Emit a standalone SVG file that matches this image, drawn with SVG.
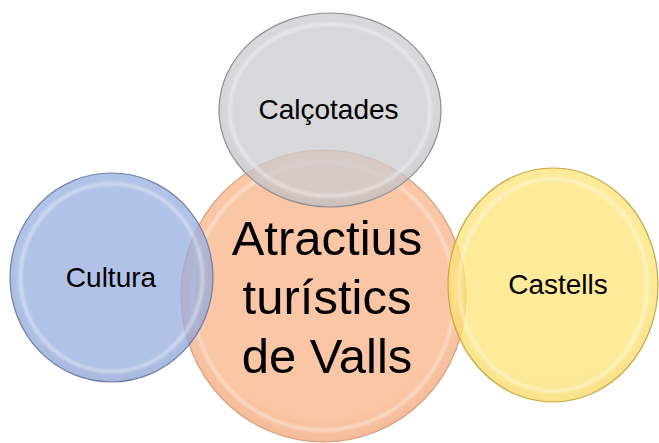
<svg xmlns="http://www.w3.org/2000/svg" width="659" height="443" viewBox="0 0 659 443">
<defs>
<filter id="blur" x="-10%" y="-10%" width="120%" height="120%"><feGaussianBlur stdDeviation="1.5"/></filter>
<radialGradient id="gO" cx="50%" cy="45%" r="55%"><stop offset="0.85" stop-color="#F9BC95"/><stop offset="1" stop-color="#F2AE86"/></radialGradient>
<radialGradient id="gG" cx="50%" cy="45%" r="55%"><stop offset="0.85" stop-color="#CBCBCF"/><stop offset="1" stop-color="#BDBDC2"/></radialGradient>
<radialGradient id="gB" cx="50%" cy="45%" r="55%"><stop offset="0.85" stop-color="#97AEE0"/><stop offset="1" stop-color="#8AA0D2"/></radialGradient>
<radialGradient id="gY" cx="50%" cy="45%" r="55%"><stop offset="0.85" stop-color="#FDE478"/><stop offset="1" stop-color="#F5D560"/></radialGradient>
</defs>
<style>
.lbl{font-family:"Liberation Sans",Arial,sans-serif;fill:#000;text-anchor:middle}
.sm{font-size:28px}
.big{font-size:49px}
.rim{fill:none;stroke:#fff;stroke-opacity:0.55;stroke-width:2.5}
</style>
<g id="connectors"/>
<g id="node-center">
<ellipse cx="323.5" cy="296" rx="142.5" ry="146" fill="url(#gO)" fill-opacity="0.85" stroke="#D9A07E" stroke-width="1.2"/>
<ellipse cx="323.5" cy="296" rx="131" ry="134" class="rim" filter="url(#blur)"/>
<text class="lbl big" x="327" y="255">Atractius</text>
<text class="lbl big" x="327" y="314">turístics</text>
<text class="lbl big" x="327" y="373">de Valls</text>
</g>
<g id="node-calcotades">
<ellipse cx="330" cy="110" rx="111" ry="97" fill="url(#gG)" fill-opacity="0.75" stroke="#8E8E92" stroke-width="1.2"/>
<ellipse cx="330" cy="110" rx="100" ry="86" class="rim" filter="url(#blur)"/>
<text class="lbl sm" x="328.5" y="119">Calçotades</text>
</g>
<g id="node-cultura">
<ellipse cx="111.5" cy="277.5" rx="101.5" ry="104.5" fill="url(#gB)" fill-opacity="0.75" stroke="#6F7FA8" stroke-width="1.2"/>
<ellipse cx="111.5" cy="277.5" rx="91" ry="94" class="rim" filter="url(#blur)"/>
<text class="lbl sm" x="111" y="287">Cultura</text>
</g>
<g id="node-castells">
<ellipse cx="553" cy="285" rx="105" ry="117" fill="url(#gY)" fill-opacity="0.75" stroke="#C9A840" stroke-width="1.2"/>
<ellipse cx="553" cy="285" rx="94" ry="106" class="rim" filter="url(#blur)"/>
<text class="lbl sm" x="558" y="294">Castells</text>
</g>
</svg>
